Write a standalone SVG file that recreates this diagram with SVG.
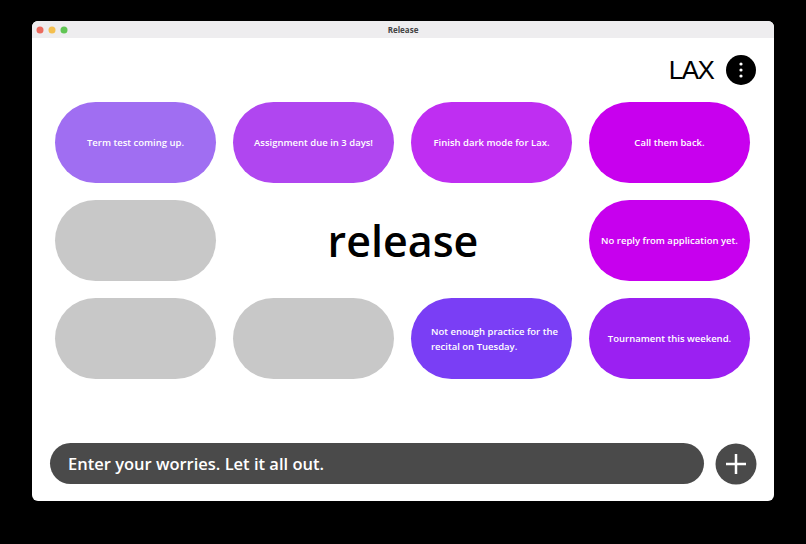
<svg xmlns="http://www.w3.org/2000/svg" width="806" height="544" viewBox="0 0 806 544">
<style>
.t{font-family:"Open Sans","Liberation Sans",sans-serif;font-weight:600;font-size:9.5px;fill:#fff;text-anchor:middle}
.g{fill:#c8c8c8}
</style>
<rect width="806" height="544" fill="#000"/>
<rect x="32" y="21" width="742" height="480" rx="6" fill="#fff"/>
<path d="M32 38V27a6 6 0 0 1 6-6h730a6 6 0 0 1 6 6v11z" fill="#eeedef"/>
<circle cx="40" cy="30" r="3.5" fill="#ec6a5e"/><circle cx="52" cy="30" r="3.5" fill="#f4bf4f"/><circle cx="64" cy="30" r="3.5" fill="#61c554"/>
<text x="403" y="33" font-family="'Open Sans','Liberation Sans',sans-serif" font-size="8" font-weight="bold" fill="#444" text-anchor="middle">Release</text>
<g id="logo"><text x="691" y="79" font-family="'Liberation Sans',sans-serif" font-size="26" fill="#000" text-anchor="middle" letter-spacing="-1.5">LAX</text></g>
<g id="menu"><circle cx="741" cy="70" r="15" fill="#000"/><circle cx="741" cy="64" r="1.6" fill="#fff"/><circle cx="741" cy="70" r="1.6" fill="#fff"/><circle cx="741" cy="76" r="1.6" fill="#fff"/></g>
<g id="n1"><rect x="55" y="102" width="161" height="81" rx="40.5" fill="#a06ef2"/><text class="t" x="135.5" y="146">Term test coming up.</text></g>
<g id="n2"><rect x="233" y="102" width="161" height="81" rx="40.5" fill="#b046f0"/><text class="t" x="313.5" y="146">Assignment due in 3 days!</text></g>
<g id="n3"><rect x="411" y="102" width="161" height="81" rx="40.5" fill="#bf2ef2"/><text class="t" x="491.5" y="146">Finish dark mode for Lax.</text></g>
<g id="n4"><rect x="589" y="102" width="161" height="81" rx="40.5" fill="#c800ee"/><text class="t" x="669.5" y="146">Call them back.</text></g>
<g id="n5"><rect class="g" x="55" y="200" width="161" height="81" rx="40.5"/></g>
<g id="title"><text x="403" y="257" font-family="'Open Sans','Liberation Sans',sans-serif" font-size="43" font-weight="600" fill="#000" text-anchor="middle">release</text></g>
<g id="n6"><rect x="589" y="200" width="161" height="81" rx="40.5" fill="#c700ee"/><text class="t" x="669.5" y="244">No reply from application yet.</text></g>
<g id="n7"><rect class="g" x="55" y="298" width="161" height="81" rx="40.5"/></g>
<g id="n8"><rect class="g" x="233" y="298" width="161" height="81" rx="40.5"/></g>
<g id="n9"><rect x="411" y="298" width="161" height="81" rx="40.5" fill="#7a3ef5"/><text class="t" x="431" y="335" text-anchor="start" style="text-anchor:start">Not enough practice for the</text><text class="t" x="431" y="350" style="text-anchor:start">recital on Tuesday.</text></g>
<g id="n10"><rect x="589" y="298" width="161" height="81" rx="40.5" fill="#9b20f2"/><text class="t" x="669.5" y="342">Tournament this weekend.</text></g>
<g id="input"><rect x="50" y="443" width="654" height="41" rx="20.5" fill="#4a4a4a"/><text x="68" y="470" font-family="'Open Sans','Liberation Sans',sans-serif" font-size="16.5" font-weight="600" fill="#fff">Enter your worries. Let it all out.</text></g>
<g id="add"><circle cx="736" cy="464" r="20.5" fill="#4a4a4a"/><path d="M736 454v20M726 464h20" stroke="#fff" stroke-width="2.5"/></g>
<g id="connectors"/>
</svg>
